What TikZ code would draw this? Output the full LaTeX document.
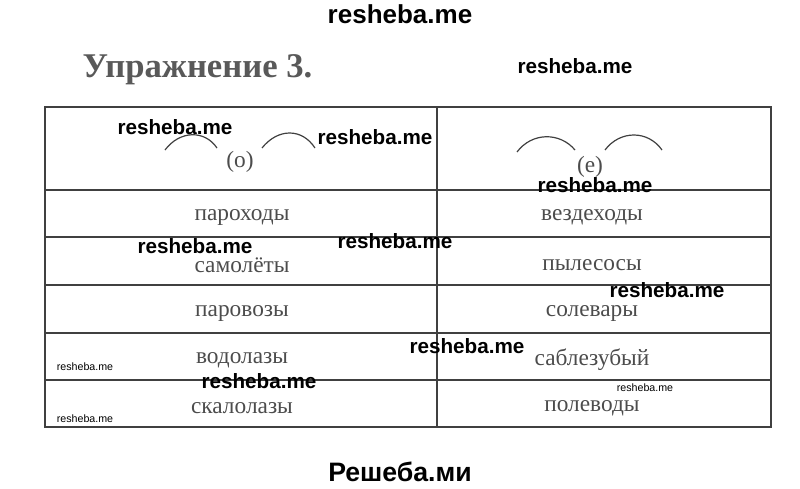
\documentclass[tikz,border=0pt]{standalone}
\usepackage{fontspec}
\setmainfont{Liberation Serif}
\newfontfamily\wm{Liberation Sans}
\begin{document}
\begin{tikzpicture}[x=0.75pt,y=-0.75pt,
 cell/.style={font=\fontsize{17.5}{17.5}\selectfont,text=black!70},
 wmk/.style={font=\wm\bfseries\fontsize{15.5}{15.5}\selectfont},
 wms/.style={font=\wm\fontsize{8}{8}\selectfont},
 arc/.style={black!75,line width=0.9pt}]
\useasboundingbox (0,0) rectangle (800,489);
\node[wmk,font=\wm\bfseries\fontsize{19.5}{19.5}\selectfont] (w0) at (400,14) {resheba.me};
\node[font=\bfseries\fontsize{26}{26}\selectfont,text=black!65,anchor=west] (title) at (78,70) {Упражнение 3.};
\draw[black!75,line width=1pt] (45,107) rectangle (771,427);
\foreach \y in {190,237,285,333,380} \draw[black!75,line width=1pt] (45,\y) -- (771,\y);
\draw[black!75,line width=1pt] (437,107) -- (437,427);
\draw[arc] (165,150) .. controls (180,130) and (205,130) .. (217,148);
\draw[arc] (262,148) .. controls (278,128) and (302,128) .. (315,148);
\node[cell] (o) at (240,162) {(о)};
\draw[arc] (517,152) .. controls (532,132) and (560,132) .. (575,150);
\draw[arc] (605,150) .. controls (620,130) and (648,130) .. (662,150);
\node[cell] (e) at (590,167) {(е)};
\node[cell] (a1) at (242,217) {пароходы};
\node[cell] (a2) at (242,265) {самолёты};
\node[cell] (a3) at (242,313) {паровозы};
\node[cell] (a4) at (242,360) {водолазы};
\node[cell] (a5) at (242,408) {скалолазы};
\node[cell] (b1) at (592,217) {вездеходы};
\node[cell] (b2) at (592,265) {пылесосы};
\node[cell] (b3) at (592,313) {солевары};
\node[cell] (b4) at (592,360) {саблезубый};
\node[cell] (b5) at (592,408) {полеводы};
\node[wmk] (w1) at (575,66) {resheba.me};
\node[wmk] (w2) at (175,127) {resheba.me};
\node[wmk] (w3) at (375,137) {resheba.me};
\node[wmk] (w4) at (595,185) {resheba.me};
\node[wmk] (w5) at (195,246) {resheba.me};
\node[wmk] (w6) at (395,241) {resheba.me};
\node[wmk] (w7) at (667,290) {resheba.me};
\node[wmk] (w8) at (467,346) {resheba.me};
\node[wmk] (w9) at (259,381) {resheba.me};
\node[wms] (s1) at (85,367) {resheba.me};
\node[wms] (s2) at (85,419) {resheba.me};
\node[wms] (s3) at (645,388) {resheba.me};
\node[font=\wm\bfseries\fontsize{20}{20}\selectfont] (w10) at (400,472) {Решеба.ми};
\end{tikzpicture}
\end{document}
